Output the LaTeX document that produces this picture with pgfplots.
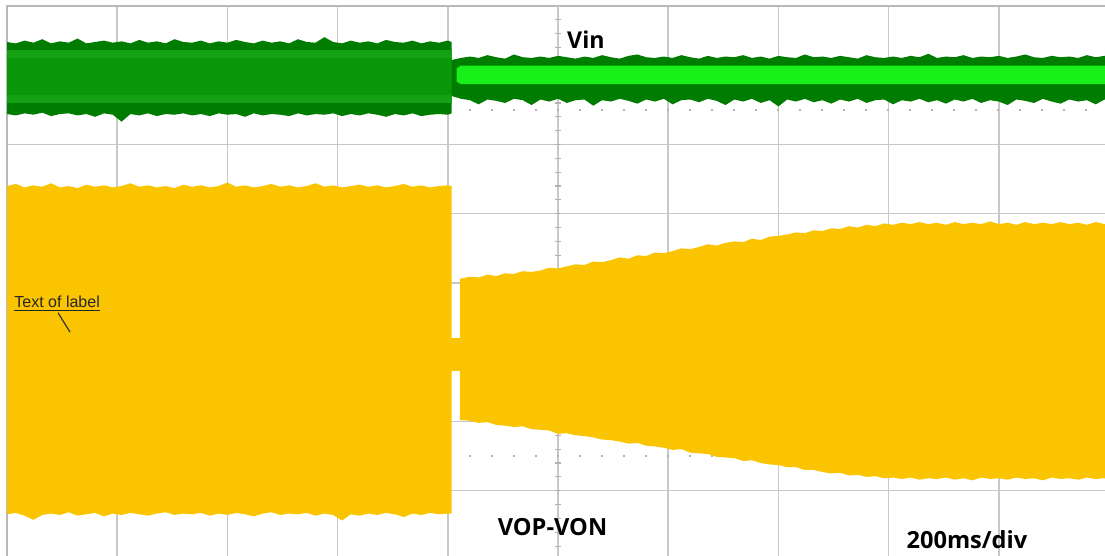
\documentclass[border=0pt]{standalone}
\usepackage{pgfplots}
\usepackage{pgfplotstable}
\pgfplotsset{compat=1.18}
\usepgfplotslibrary{fillbetween}
\usepackage{fontspec}
\newfontfamily\labfont{Open Sans}
\newfontfamily\arialfont{Liberation Sans}

\definecolor{yel}{RGB}{250,196,0}
\definecolor{gdark}{RGB}{0,125,0}
\definecolor{gmid}{RGB}{20,162,20}
\definecolor{gcore}{RGB}{10,152,10}
\definecolor{glime}{RGB}{25,240,25}
\definecolor{gridc}{RGB}{200,200,200}

% VOP-VON, before the step (x in div, envelope hi/lo in div)
\pgfplotstableread{
x hi lo
0.00 1.40 -3.34
0.08 1.43 -3.32
0.16 1.38 -3.36
0.24 1.41 -3.42
0.32 1.39 -3.35
0.40 1.44 -3.33
0.48 1.38 -3.35
0.56 1.40 -3.31
0.64 1.37 -3.36
0.72 1.42 -3.34
0.80 1.39 -3.32
0.88 1.41 -3.37
0.96 1.38 -3.33
1.04 1.40 -3.35
1.12 1.44 -3.32
1.20 1.39 -3.34
1.28 1.41 -3.36
1.36 1.38 -3.33
1.44 1.40 -3.31
1.52 1.37 -3.35
1.60 1.42 -3.33
1.68 1.39 -3.34
1.76 1.41 -3.32
1.84 1.38 -3.36
1.92 1.40 -3.33
2.00 1.45 -3.35
2.08 1.39 -3.32
2.16 1.41 -3.34
2.24 1.38 -3.37
2.32 1.40 -3.33
2.40 1.43 -3.31
2.48 1.39 -3.35
2.56 1.41 -3.33
2.64 1.38 -3.34
2.72 1.40 -3.32
2.80 1.44 -3.36
2.88 1.39 -3.33
2.96 1.41 -3.35
3.04 1.38 -3.43
3.12 1.40 -3.34
3.20 1.42 -3.36
3.28 1.39 -3.33
3.36 1.41 -3.35
3.44 1.38 -3.32
3.52 1.40 -3.34
3.60 1.43 -3.38
3.68 1.39 -3.33
3.76 1.41 -3.35
3.84 1.38 -3.32
3.92 1.40 -3.34
4.00 1.41 -3.33
4.035 1.40 -3.33
}\yleft

% VOP-VON, after the step
\pgfplotstableread{
x hi lo
4.11 0.06 -1.98
4.20 0.09 -1.99
4.28 0.08 -2.02
4.36 0.12 -2.01
4.44 0.10 -2.05
4.52 0.14 -2.06
4.60 0.13 -2.08
4.68 0.17 -2.07
4.76 0.16 -2.11
4.84 0.18 -2.12
4.92 0.22 -2.13
5.00 0.21 -2.18
5.08 0.24 -2.17
5.16 0.27 -2.20
5.24 0.26 -2.21
5.32 0.31 -2.23
5.40 0.30 -2.26
5.48 0.33 -2.27
5.56 0.37 -2.29
5.64 0.35 -2.32
5.72 0.40 -2.31
5.80 0.39 -2.35
5.88 0.44 -2.36
5.96 0.43 -2.38
6.04 0.46 -2.41
6.12 0.50 -2.40
6.20 0.49 -2.45
6.28 0.52 -2.46
6.36 0.56 -2.47
6.44 0.54 -2.51
6.52 0.58 -2.52
6.60 0.60 -2.53
6.68 0.59 -2.57
6.76 0.64 -2.56
6.84 0.62 -2.60
6.92 0.67 -2.62
7.00 0.68 -2.63
7.08 0.70 -2.66
7.16 0.73 -2.66
7.24 0.72 -2.70
7.32 0.76 -2.70
7.40 0.75 -2.73
7.48 0.79 -2.75
7.56 0.78 -2.74
7.64 0.82 -2.78
7.72 0.80 -2.77
7.80 0.84 -2.80
7.88 0.82 -2.79
7.96 0.86 -2.82
8.04 0.84 -2.81
8.12 0.87 -2.83
8.20 0.85 -2.81
8.28 0.88 -2.84
8.36 0.85 -2.82
8.44 0.87 -2.83
8.52 0.84 -2.81
8.60 0.88 -2.84
8.68 0.85 -2.82
8.76 0.87 -2.85
8.84 0.85 -2.81
8.92 0.89 -2.83
9.00 0.85 -2.82
9.08 0.87 -2.84
9.16 0.84 -2.81
9.24 0.88 -2.83
9.32 0.85 -2.82
9.40 0.87 -2.85
9.48 0.85 -2.81
9.56 0.88 -2.83
9.64 0.85 -2.82
9.72 0.87 -2.84
9.80 0.84 -2.81
9.88 0.88 -2.83
9.96 0.85 -2.82
10.04 0.86 -2.83
}\yright

% Vin, before the step
\pgfplotstableread{
x hi lo
0.00 3.48 2.44
0.08 3.46 2.42
0.16 3.50 2.45
0.24 3.47 2.43
0.32 3.52 2.46
0.40 3.46 2.41
0.48 3.49 2.44
0.56 3.47 2.45
0.64 3.53 2.42
0.72 3.46 2.44
0.80 3.48 2.40
0.88 3.50 2.45
0.96 3.47 2.43
1.04 3.49 2.33
1.12 3.46 2.44
1.20 3.51 2.42
1.28 3.47 2.45
1.36 3.49 2.41
1.44 3.46 2.44
1.52 3.52 2.43
1.60 3.48 2.45
1.68 3.47 2.42
1.76 3.50 2.44
1.84 3.46 2.41
1.92 3.49 2.45
2.00 3.47 2.43
2.08 3.51 2.44
2.16 3.48 2.40
2.24 3.46 2.45
2.32 3.50 2.42
2.40 3.47 2.44
2.48 3.49 2.43
2.56 3.46 2.41
2.64 3.52 2.45
2.72 3.48 2.42
2.80 3.47 2.44
2.88 3.55 2.43
2.96 3.48 2.45
3.04 3.46 2.41
3.12 3.50 2.44
3.20 3.47 2.42
3.28 3.49 2.45
3.36 3.46 2.43
3.44 3.51 2.40
3.52 3.48 2.44
3.60 3.47 2.42
3.68 3.50 2.45
3.76 3.46 2.41
3.84 3.49 2.43
3.92 3.47 2.44
4.00 3.50 2.43
4.035 3.48 2.45
}\gleft

% Vin, after the step
\pgfplotstableread{
x hi lo
4.035 3.22 2.70
4.12 3.25 2.66
4.20 3.27 2.64
4.28 3.25 2.58
4.36 3.29 2.65
4.44 3.26 2.63
4.52 3.24 2.60
4.60 3.30 2.66
4.68 3.26 2.64
4.76 3.25 2.57
4.84 3.27 2.65
4.92 3.25 2.62
5.00 3.28 2.66
5.08 3.26 2.60
5.16 3.24 2.64
5.24 3.27 2.65
5.32 3.25 2.56
5.40 3.29 2.64
5.48 3.26 2.62
5.56 3.24 2.66
5.64 3.28 2.63
5.72 3.30 2.59
5.80 3.26 2.65
5.88 3.25 2.62
5.96 3.27 2.66
6.04 3.25 2.58
6.12 3.29 2.64
6.20 3.26 2.65
6.28 3.24 2.61
6.36 3.28 2.66
6.44 3.25 2.63
6.52 3.27 2.57
6.60 3.26 2.65
6.68 3.29 2.62
6.76 3.25 2.66
6.84 3.27 2.60
6.92 3.24 2.64
7.00 3.28 2.55
7.08 3.26 2.65
7.16 3.25 2.62
7.24 3.30 2.66
7.32 3.26 2.61
7.40 3.27 2.64
7.48 3.25 2.59
7.56 3.28 2.65
7.64 3.26 2.62
7.72 3.24 2.66
7.80 3.29 2.60
7.88 3.26 2.64
7.96 3.25 2.65
8.04 3.27 2.58
8.12 3.25 2.64
8.20 3.28 2.62
8.28 3.26 2.66
8.36 3.31 2.61
8.44 3.25 2.64
8.52 3.27 2.59
8.60 3.26 2.65
8.68 3.29 2.62
8.76 3.25 2.66
8.84 3.27 2.60
8.92 3.26 2.64
9.00 3.28 2.62
9.08 3.25 2.57
9.16 3.27 2.65
9.24 3.30 2.63
9.32 3.26 2.60
9.40 3.25 2.66
9.48 3.28 2.62
9.56 3.26 2.59
9.64 3.27 2.65
9.72 3.25 2.62
9.80 3.29 2.64
9.88 3.26 2.58
9.96 3.28 2.65
10.04 3.26 2.63
}\gright

\begin{document}
\begin{tikzpicture}
\begin{axis}[
 at={(0,0)}, anchor=north west,
 width=551pt, height=277pt, scale only axis,
 xmin=0, xmax=10, ymin=-4, ymax=4,
 xtick={0,1,...,10}, ytick={-4,-3,...,4},
 xticklabels={}, yticklabels={},
 major tick length=0pt,
 grid=major,
 grid style={gridc, line width=0.75pt},
 axis line style={gray!55, line width=1pt},
 fill between/on layer=main,
]
% centre lines with their small division marks
\draw[gridc, line width=0.75pt] (axis cs:5,-4) -- (axis cs:5,4);
\draw[gridc, line width=0.75pt] (axis cs:0,0) -- (axis cs:10,0);
\pgfplotsinvokeforeach{-3.8,-3.6,...,3.8}{
 \draw[gray!60, line width=0.6pt] (axis cs:4.97,#1) -- (axis cs:5.03,#1);
}
\pgfplotsinvokeforeach{0.2,0.4,...,9.8}{
 \draw[gray!60, line width=0.6pt] (axis cs:#1,-0.05) -- (axis cs:#1,0.05);
}
\draw[gray!60, line width=1pt, dash pattern=on 0.8pt off 10.2pt] (axis cs:0,2.5) -- (axis cs:10,2.5);
\draw[gray!60, line width=1pt, dash pattern=on 0.8pt off 10.2pt] (axis cs:0,-2.5) -- (axis cs:10,-2.5);

% Vin
\addplot[name path=gla, draw=none] table[x=x, y=hi] {\gleft};
\addplot[name path=glb, draw=none] table[x=x, y=lo] {\gleft};
\addplot[gdark] fill between[of=gla and glb];
\addplot[fill=gmid, draw=none] coordinates {(0,3.37) (4.035,3.37) (4.035,2.60) (0,2.60)};
\addplot[fill=gcore, draw=none] coordinates {(0,3.25) (4.035,3.25) (4.035,2.72) (0,2.72)};
\addplot[name path=gra, draw=none] table[x=x, y=hi] {\gright};
\addplot[name path=grb, draw=none] table[x=x, y=lo] {\gright};
\addplot[gdark] fill between[of=gra and grb];
\addplot[fill=glime, draw=none] coordinates {(4.08,3.10) (4.12,3.14) (10.05,3.14) (10.05,2.87) (4.12,2.87) (4.08,2.91)};

% VOP-VON
\addplot[name path=yla, draw=none] table[x=x, y=hi] {\yleft};
\addplot[name path=ylb, draw=none] table[x=x, y=lo] {\yleft};
\addplot[yel] fill between[of=yla and ylb];
\addplot[fill=yel, draw=none] coordinates {(4.03,-0.79) (4.115,-0.79) (4.115,-1.27) (4.03,-1.27)};
\addplot[name path=yra, draw=none] table[x=x, y=hi] {\yright};
\addplot[name path=yrb, draw=none] table[x=x, y=lo] {\yright};
\addplot[yel] fill between[of=yra and yrb];

% labels
\node[anchor=base west, inner sep=0pt, font=\labfont\bfseries\fontsize{11.6}{12}\selectfont]
 at (axis cs:5.08,3.39) {Vin};
\node[anchor=base west, inner sep=0pt, font=\labfont\bfseries\fontsize{11.8}{12}\selectfont]
 at (axis cs:4.45,-3.65) {VOP-VON};
\node[anchor=base west, inner sep=0pt, font=\labfont\bfseries\fontsize{11.8}{12}\selectfont]
 at (axis cs:8.16,-3.83) {200ms/div};
\node[anchor=base west, inner sep=0pt, text=black!85, font=\arialfont\fontsize{8}{9}\selectfont]
 at (axis cs:0.064,-0.35) {\underline{Text of label}};
\draw[black!80, line width=0.6pt] (axis cs:0.463,-0.43) -- (axis cs:0.572,-0.71);
\end{axis}
\pgfresetboundingbox
\useasboundingbox (-3.5pt,3pt) rectangle (549pt,-275pt);
\end{tikzpicture}
\end{document}
